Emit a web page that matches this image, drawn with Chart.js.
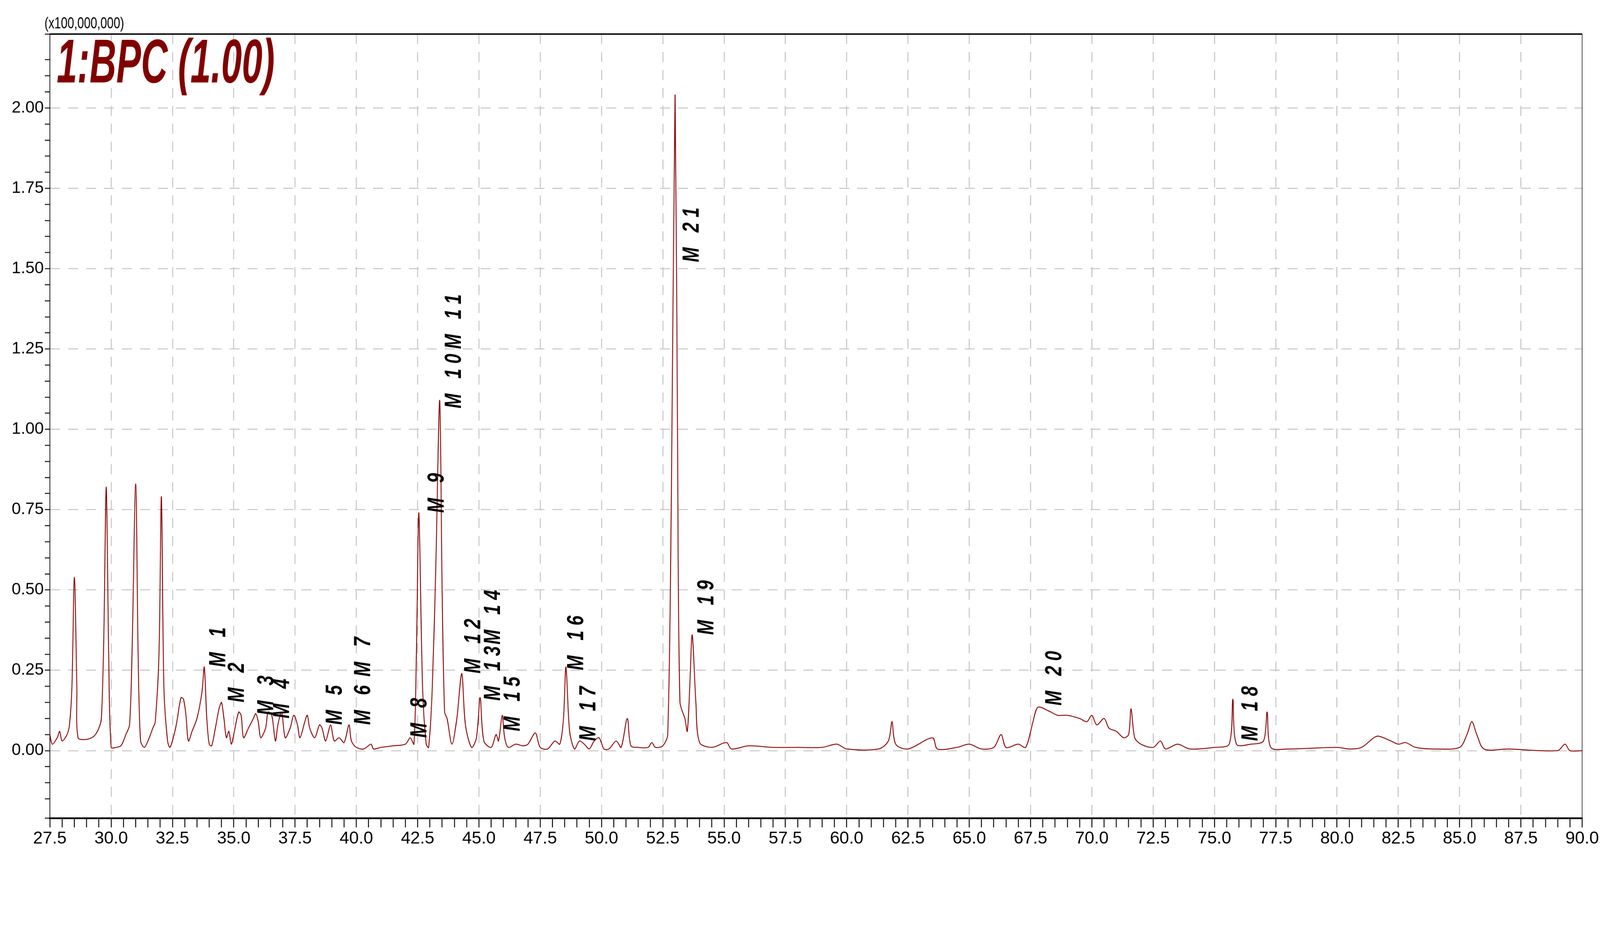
<!DOCTYPE html>
<html>
<head>
<meta charset="utf-8">
<script src="https://cdn.jsdelivr.net/npm/chart.js@4"></script>
<style>
html, body { margin: 0; padding: 0; background: #fff; overflow: hidden; }
#wrap { width: 4461px; height: 2405px; transform-origin: 0 0; }
canvas { display: block; }
</style>
</head>
<body>
<div id="wrap"><canvas id="bpc" width="4461" height="2405" style="width:4461px;height:2405px"></canvas></div>
<script>
// retention time (min) and BPC intensity (x100,000,000)
let retentionTimes = [27.5,27.6,27.8,27.9,28.0,28.2,28.3,28.4,28.5,28.6,28.65,29.0,29.3,29.5,29.6,29.7,29.8,29.9,30.0,30.2,30.4,30.6,30.75,30.85,31.0,31.1,31.2,31.35,31.5,31.7,31.8,31.95,32.05,32.15,32.3,32.4,32.6,32.7,32.85,32.95,33.05,33.15,33.3,33.5,33.7,33.8,33.9,34.0,34.1,34.25,34.4,34.5,34.6,34.7,34.8,34.9,35.0,35.2,35.3,35.4,35.6,35.8,35.9,36.0,36.1,36.3,36.4,36.55,36.7,36.8,36.95,37.1,37.3,37.45,37.6,37.7,37.9,38.0,38.1,38.3,38.5,38.6,38.75,38.95,39.1,39.3,39.5,39.7,39.8,40.0,40.3,40.6,40.7,41.0,41.5,42.0,42.2,42.35,42.45,42.55,42.7,42.85,42.95,43.1,43.25,43.4,43.5,43.6,43.7,43.9,44.1,44.3,44.45,44.7,44.9,45.05,45.2,45.5,45.7,45.8,45.95,46.05,46.2,46.5,46.8,47.0,47.3,47.5,47.8,48.1,48.3,48.45,48.55,48.7,48.9,49.1,49.3,49.5,49.7,49.9,50.1,50.3,50.6,50.8,51.05,51.2,51.5,51.9,52.05,52.2,52.5,52.7,52.85,53.0,53.1,53.2,53.4,53.5,53.6,53.7,53.85,54.0,54.5,55.1,55.3,56.0,57.0,58.0,59.0,59.6,60.0,61.3,61.7,61.85,62.0,62.5,63.5,63.7,64.5,65.0,65.5,66.0,66.3,66.5,67.0,67.3,67.6,67.8,68.2,68.6,69.0,69.5,69.8,70.0,70.2,70.5,70.7,71.0,71.3,71.5,71.6,71.75,72.0,72.5,72.8,73.0,73.5,74.0,75.0,75.6,75.75,75.9,76.5,77.0,77.15,77.3,78.0,80.0,80.5,81.0,81.5,81.7,82.2,82.5,82.8,83.2,84.0,85.0,85.3,85.5,85.7,86.0,87.0,89.0,89.3,89.5,90.0];
let intensities = [0.05,0.02,0.04,0.06,0.03,0.05,0.08,0.2,0.54,0.2,0.04,0.035,0.045,0.07,0.1,0.35,0.82,0.3,0.01,0.01,0.015,0.05,0.08,0.3,0.83,0.3,0.03,0.01,0.03,0.07,0.09,0.3,0.79,0.2,0.03,0.01,0.06,0.1,0.165,0.16,0.11,0.03,0.06,0.1,0.18,0.26,0.1,0.02,0.015,0.07,0.13,0.15,0.1,0.04,0.06,0.02,0.05,0.12,0.11,0.04,0.07,0.1,0.115,0.09,0.04,0.07,0.12,0.11,0.03,0.08,0.12,0.04,0.07,0.11,0.08,0.04,0.09,0.11,0.07,0.04,0.08,0.07,0.03,0.08,0.03,0.04,0.025,0.08,0.03,0.01,0.005,0.02,0.005,0.01,0.015,0.02,0.04,0.02,0.3,0.74,0.2,0.02,0.01,0.2,0.6,1.09,0.5,0.12,0.1,0.02,0.1,0.24,0.08,0.01,0.04,0.165,0.03,0.01,0.05,0.03,0.11,0.04,0.01,0.02,0.015,0.02,0.055,0.01,0.005,0.03,0.02,0.1,0.26,0.06,0.005,0.03,0.02,0.005,0.03,0.04,0.005,0.005,0.03,0.01,0.1,0.015,0.01,0.01,0.025,0.01,0.015,0.05,0.8,2.04,1.0,0.15,0.1,0.06,0.2,0.36,0.15,0.025,0.01,0.025,0.005,0.015,0.01,0.01,0.01,0.02,0.005,0.005,0.03,0.09,0.02,0.005,0.04,0.005,0.01,0.02,0.005,0.01,0.05,0.01,0.02,0.01,0.09,0.135,0.125,0.11,0.11,0.1,0.09,0.11,0.08,0.1,0.07,0.06,0.04,0.05,0.13,0.04,0.02,0.01,0.03,0.005,0.02,0.005,0.01,0.02,0.16,0.02,0.02,0.03,0.12,0.01,0.005,0.01,0.005,0.01,0.04,0.045,0.03,0.02,0.025,0.01,0.005,0.01,0.05,0.09,0.05,0.005,0.005,0.0,0.02,0.0,0.0];

// peak annotations: text, retention time, intensity where the text starts
let peakNames = ["M 1","M 2","M 3","M 4","M 5","M 6","M 7","M 8","M 9","M 10","M 11","M 12","M 13","M 14","M 15","M 16","M 17","M 18","M 19","M 20","M 21"];
let peakTimes = [34.4,35.15,36.35,37.0,39.15,40.3,40.3,42.6,43.3,44.0,44.0,44.8,45.6,45.6,46.4,49.0,49.5,76.5,54.3,68.5,53.7];
let peakLevels = [0.26,0.15,0.11,0.10,0.08,0.08,0.23,0.04,0.74,1.065,1.25,0.24,0.155,0.33,0.06,0.25,0.03,0.03,0.36,0.14,1.52];

let points = retentionTimes.map((t, i) => ({x: t, y: intensities[i]}));

// fit the fixed 4461x2405 drawing into whatever the viewport is
let fit = Math.min(window.innerWidth / 4461, window.innerHeight / 2405);
document.getElementById("wrap").style.transform = "scale(" + fit + ")";

const narrow = "'Liberation Sans Narrow', 'Liberation Sans', Arial, sans-serif";

// frame, title and peak labels
const decor = {
    id: "decor",
    afterDraw(chart) {
        let ctx = chart.ctx;
        let a = chart.chartArea;
        let xs = chart.scales.x, ys = chart.scales.y;

        ctx.save();
        ctx.strokeStyle = "#000";
        ctx.lineWidth = 1.5;
        ctx.beginPath();
        ctx.moveTo(a.right, a.top);
        ctx.lineTo(a.right, a.bottom);
        ctx.stroke();
        ctx.lineWidth = 4;
        ctx.beginPath();
        ctx.moveTo(a.left, a.top);
        ctx.lineTo(a.right, a.top);
        ctx.stroke();

        ctx.fillStyle = "#000";
        ctx.save();
        ctx.translate(124, a.top - 6);
        ctx.scale(0.75, 1);
        ctx.font = "44px " + narrow;
        ctx.textBaseline = "bottom";
        ctx.textAlign = "left";
        ctx.fillText("(x100,000,000)", 0, 0);
        ctx.restore();

        // title
        ctx.save();
        ctx.translate(158, a.top + 135);
        ctx.scale(0.6, 1);
        ctx.fillStyle = "#800000";
        ctx.font = "italic bold 172px 'Liberation Sans', Arial, sans-serif";
        ctx.textBaseline = "alphabetic";
        ctx.fillText("1:BPC (1.00)", 0, 0);
        ctx.restore();

        // peak labels
        ctx.font = "italic bold 64px 'Liberation Sans', Arial, sans-serif";
        ctx.textBaseline = "middle";
        ctx.textAlign = "left";
        peakNames.forEach((n, i) => {
            ctx.save();
            ctx.translate(xs.getPixelForValue(peakTimes[i]), ys.getPixelForValue(peakLevels[i]));
            ctx.rotate(-Math.PI / 2);
            ctx.scale(0.78, 1);
            ctx.fillText(n.split("").join(" "), 0, 0);
            ctx.restore();
        });
        ctx.restore();
    }
};

new Chart(document.getElementById("bpc"), {
    type: "line",
    data: {
        datasets: [{
            data: points,
            borderColor: "#8b0000",
            borderWidth: 2.5,
            pointRadius: 0,
            tension: 0.3,
            fill: false
        }]
    },
    options: {
        responsive: false,
        maintainAspectRatio: false,
        animation: false,
        devicePixelRatio: 1,
        layout: {padding: {left: 0, top: 95, right: 43, bottom: 0}},
        plugins: {legend: {display: false}, tooltip: {enabled: false}},
        scales: {
            x: {
                type: "linear",
                min: 27.5,
                max: 90,
                afterFit(s) { s.height = 123; },
                ticks: {
                    stepSize: 0.5,
                    autoSkip: false,
                    maxRotation: 0,
                    color: "#000",
                    font: {size: 48, family: narrow},
                    callback: v => (Math.abs(v * 2 / 5 - Math.round(v * 2 / 5)) < 1e-6) ? v.toFixed(1) : ""
                },
                grid: {
                    color: c => (c.tick && Math.abs(c.tick.value * 0.4 - Math.round(c.tick.value * 0.4)) < 1e-6 && c.tick.value > 27.6 && c.tick.value < 89.9) ? "#c0c0c0" : "rgba(0,0,0,0)",
                    lineWidth: 2.5,
                    tickColor: "#000",
                    tickLength: 26,
                    drawOnChartArea: true
                },
                border: {display: true, color: "#000", width: 5, dash: [28, 22]}
            },
            y: {
                min: -0.21,
                max: 2.23,
                afterFit(s) { s.width = 139; },
                ticks: {
                    stepSize: 0.05,
                    autoSkip: false,
                    color: "#000",
                    font: {size: 46, family: narrow},
                    callback: v => (v >= -1e-6 && Math.abs(v * 4 - Math.round(v * 4)) < 1e-6) ? v.toFixed(2) : ""
                },
                grid: {
                    color: c => (c.tick && c.tick.value >= -1e-6 && Math.abs(c.tick.value * 4 - Math.round(c.tick.value * 4)) < 1e-6) ? "#c0c0c0" : "rgba(0,0,0,0)",
                    lineWidth: 2.5,
                    tickColor: "#000",
                    tickLength: 14
                },
                border: {display: true, color: "#000", width: 2, dash: [28, 22]}
            }
        }
    },
    plugins: [decor]
});
</script>
</body>
</html>
